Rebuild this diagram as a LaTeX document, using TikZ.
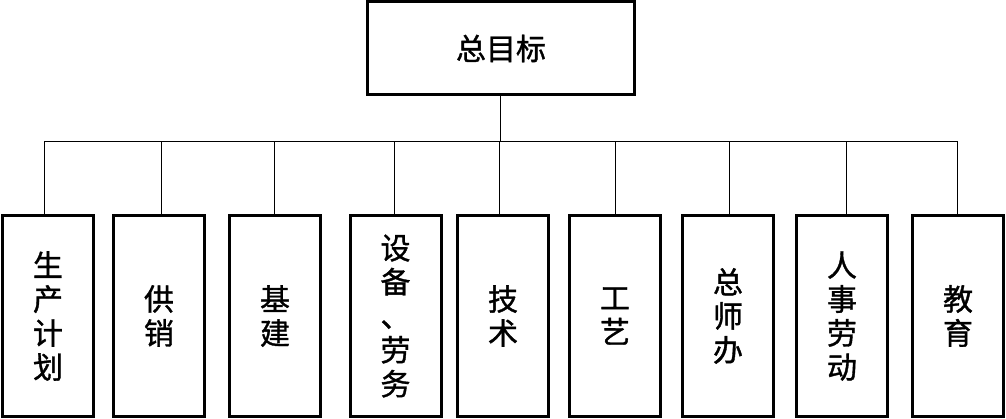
\documentclass[tikz,border=0pt]{standalone}
\usepackage{fontspec}
\newfontfamily\cjk[FakeBold=1.2]{Noto Sans CJK SC}
\usetikzlibrary{positioning}

\tikzset{
  goalbox/.style={draw, line width=3pt, minimum width=267pt, minimum height=93pt,
    inner sep=0pt, font=\cjk\fontsize{30}{34}\selectfont},
  deptbox/.style={draw, line width=3pt, minimum width=91pt, minimum height=201pt,
    inner sep=0pt, align=center, font=\cjk\fontsize{30}{34}\selectfont},
  link/.style={line width=1pt}
}

\begin{document}
\begin{tikzpicture}[x=1pt,y=1pt]
  \useasboundingbox (0,0) rectangle (1006,419);
  % Goal
  \node[goalbox] (goal) at (501,370.5) {总目标};
  % Departments
  \node[deptbox] (d1) at (48,103)    {生\\产\\计\\划};
  \node[deptbox] (d2) at (159,103)   {供\\销};
  \node[deptbox] (d3) at (275,103)   {基\\建};
  \node[deptbox] (d4) at (395.5,103) {设\\备\\、\\劳\\务};
  \node[deptbox] (d5) at (503,103)   {技\\术};
  \node[deptbox] (d6) at (615,103)   {工\\艺};
  \node[deptbox] (d7) at (728,103)   {总\\师\\办};
  \node[deptbox] (d8) at (842,103)   {人\\事\\劳\\动};
  \node[deptbox] (d9) at (958,103)   {教\\育};
  % Connectors
  \coordinate (bus) at (500,277);
  \draw[link] (goal.south -| bus) -- (bus);
  \foreach \n/\dx in {1/-4,2/2,3/-1,4/-1,5/-4,6/0,7/1,8/4,9/-1}
    \draw[link] (bus) -| ([xshift=\dx pt]d\n.north);
\end{tikzpicture}
\end{document}
